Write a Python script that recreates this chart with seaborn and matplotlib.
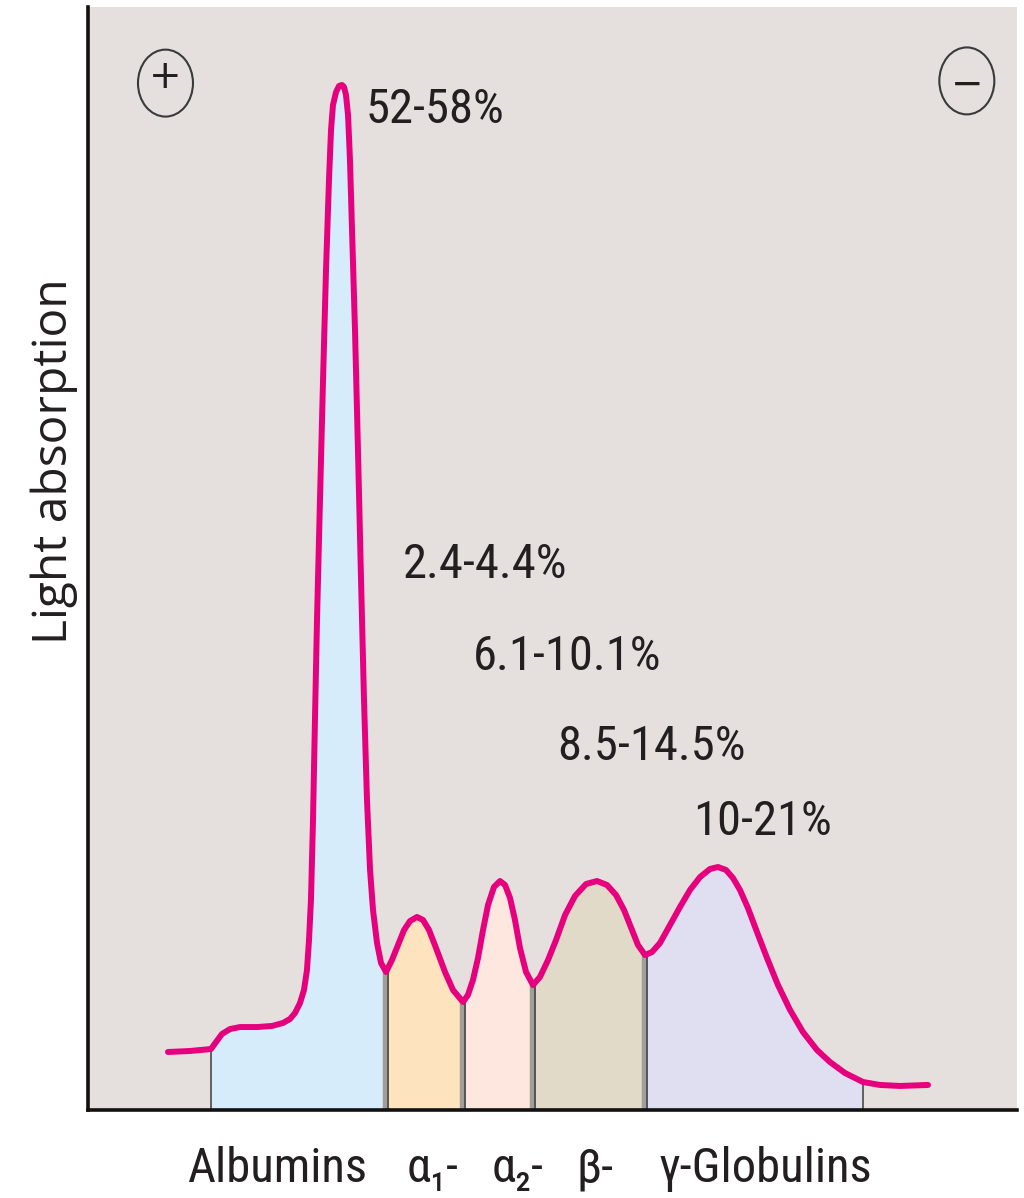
import numpy as np
import pandas as pd
import seaborn as sns
import matplotlib
matplotlib.use("Agg")
import matplotlib.pyplot as plt
from matplotlib.patches import Ellipse
from matplotlib import font_manager as fm

# ---------------- data ----------------
mobility = [8.61, 10.98, 13.24, 13.78, 14.42, 15.29, 16.36, 18.19, 19.81, 20.99, 21.74, 22.28,
            22.82, 23.25, 23.57, 23.79, 24.00, 24.22, 24.43, 24.65, 24.97, 25.30, 25.62, 25.94,
            26.16, 26.37, 26.70, 27.02, 27.34, 27.56, 27.77, 27.99, 28.20, 28.42, 28.74, 29.06,
            29.39, 29.71, 30.03, 30.36, 30.68, 31.11, 31.54, 32.08,
            32.72, 33.37, 34.02, 34.66, 35.41, 36.06, 36.71, 37.46, 38.43, 39.29, 40.37,
            40.90, 41.44, 41.98, 42.52, 43.06, 43.70, 44.35, 44.89, 45.43, 45.96, 46.50, 47.15, 47.90,
            48.65, 49.52, 50.38, 51.35, 52.42, 53.61, 54.79, 55.87, 56.84, 57.70, 58.56, 59.20, 59.96,
            60.71, 61.57, 62.65, 63.72, 64.80, 65.88, 66.95, 67.81, 68.68, 69.43, 70.18, 71.04,
            72.01, 73.09, 74.27, 75.57, 76.96, 78.47, 79.87, 81.49, 83.42, 85.25, 87.41, 90.42]
absorption = [5.26, 5.35, 5.53, 6.16, 6.89, 7.34, 7.52, 7.52, 7.62, 7.89, 8.25, 8.79,
              9.70, 10.88, 12.69, 15.41, 19.04, 26.29, 35.36, 44.42, 55.30, 66.18, 76.16, 84.32,
              88.85, 91.11, 92.29, 92.84, 92.93, 92.75, 92.02, 90.21, 86.13, 79.78, 70.72, 59.84,
              48.05, 37.17, 28.11, 21.76, 18.13, 15.14, 13.33, 12.51,
              13.60, 14.96, 16.32, 17.13, 17.50, 17.23, 16.32, 14.69, 12.51, 10.88, 9.79,
              10.43, 11.79, 13.78, 16.32, 18.59, 20.22, 20.76, 20.40, 19.22, 17.23, 14.69, 12.51, 11.33,
              12.06, 13.60, 15.41, 17.68, 19.40, 20.49, 20.76, 20.40, 19.49, 18.13, 16.32, 14.96, 14.05,
              14.32, 15.14, 16.77, 18.40, 19.95, 21.12, 21.85, 22.03, 21.76, 21.03, 19.95, 18.31,
              16.14, 13.78, 11.33, 9.07, 7.07, 5.44, 4.35, 3.35, 2.54, 2.27, 2.18, 2.27]
fractions = ["Albumins", "α\u2081-", "α\u2082-", "β-", "γ-Globulins"]
boundaries = [13.24, 32.08, 40.37, 47.90, 59.96, 83.42]
percent_labels = ["52-58%", "2.4-4.4%", "6.1-10.1%", "8.5-14.5%", "10-21%"]

# ---------------- styling / layout ----------------
fill_colors = ["#d6ecfa", "#fde4bf", "#fde7de", "#e2dac8", "#e0def1"]
bg_color = "#e5e0dd"
curve_color = "#e6007e"
text_color = "#231f20"
label_x = [29.9, 33.9, 41.4, 50.5, 65.1]
label_y = [89.5, 48.2, 39.9, 31.7, 24.9]
tick_pos = [20.34, 37.14, 46.29, 54.57, 72.87]

sns.set_style("white")

# pick a condensed face if one is installed
entries = fm.fontManager.ttflist
names = {f.name for f in entries}
font_kw = {"family": ["Liberation Sans", "DejaVu Sans"]}
fsize = 29
for cand in ["Roboto Condensed", "Liberation Sans Narrow", "Open Sans Condensed",
             "Noto Sans Condensed"]:
    if cand in names:
        font_kw = {"family": [cand, "DejaVu Sans"]}
        fsize = 35
        break
plt.rcParams["font.family"] = font_kw["family"]

fig = plt.figure(figsize=(10.24, 11.98), dpi=100)
ax = fig.add_axes([88 / 1024, 1 - 1110 / 1198, 929 / 1024, 1103 / 1198])
ax.set_facecolor(bg_color)

df = pd.DataFrame({"mobility": mobility, "absorption": absorption})
x = df["mobility"].to_numpy()
y = df["absorption"].to_numpy()

# coloured fractions
for lo, hi, c in zip(boundaries[:-1], boundaries[1:], fill_colors):
    m = (x >= lo - 1e-9) & (x <= hi + 1e-9)
    ax.fill_between(x[m], y[m], 0, color=c, lw=0, zorder=1)

# separators
for i, b in enumerate(boundaries):
    yb = np.interp(b, x, y)
    if i in (0, len(boundaries) - 1):
        ax.vlines(b, 0, yb, color="#4a4a4a", lw=1.2, zorder=2)
    else:
        ax.vlines(b - 0.12, 0, yb, color="#a29e99", lw=3.2, zorder=2)
        ax.vlines(b + 0.18, 0, yb, color="#4a4a4a", lw=1.3, zorder=2)

sns.lineplot(data=df, x="mobility", y="absorption", color=curve_color,
             lw=4.3, ax=ax, zorder=3, sort=False)
for ln in ax.get_lines():
    ln.set_solid_joinstyle("round")
    ln.set_solid_capstyle("round")

for s, lx, ly in zip(percent_labels, label_x, label_y):
    ax.text(lx, ly, s, ha="left", va="baseline", fontsize=fsize,
            color=text_color, zorder=4, **font_kw)

# electrode symbols
for cx, cy, sym in [(8.34, 93.1, "+"), (94.6, 93.3, "\u2212")]:
    ax.add_patch(Ellipse((cx, cy), 5.92, 6.07, fill=False, ec="#3a3a3a",
                         lw=1.5, zorder=4))
    ax.text(cx, cy + (0.9 if sym == "+" else 0.0) - 1.35, sym, ha="center",
            va="baseline", fontsize=28, family="DejaVu Sans",
            color=text_color, zorder=5)

ax.set_xlim(0, 100)
ax.set_ylim(0, 100)
ax.set_xticks(tick_pos)
ax.set_xticklabels(fractions, fontsize=fsize, color=text_color, **font_kw)
ax.tick_params(axis="x", length=0, pad=26)
ax.set_yticks([])
ax.set_xlabel("")
ax.set_ylabel("Light absorption", fontsize=34.5, family=["Open Sans", "DejaVu Sans"],
              color=text_color)
ax.yaxis.set_label_coords(-0.0108, 0.588)

for sp in ["top", "right"]:
    ax.spines[sp].set_visible(False)
for sp in ["left", "bottom"]:
    ax.spines[sp].set_color("#111111")
    ax.spines[sp].set_linewidth(2.6)

fig.savefig("out.png", dpi=100, facecolor="white")
